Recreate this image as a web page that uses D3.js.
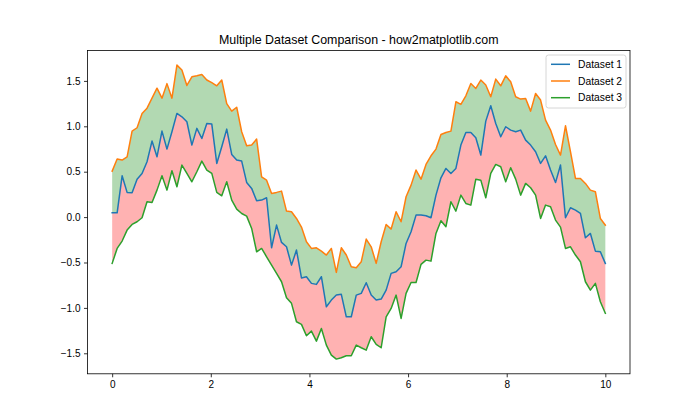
<!DOCTYPE html>
<html>
<head>
<meta charset="utf-8">
<script src="https://cdn.jsdelivr.net/npm/d3@7"></script>
<style>
  html, body { margin: 0; padding: 0; background: #fff; }
  svg { display: block; font-family: "Liberation Sans", Arial, sans-serif; }
</style>
</head>
<body>
<div id="chart"></div>
<script>
const nPoints = 100;
const xStart = 0, xEnd = 10;

const dataset1 = [
  0.047, 0.047, 0.455, 0.272, 0.268, 0.418, 0.481, 0.609, 0.837, 0.664,
  0.947, 0.749, 0.940, 1.142, 1.105, 1.050, 0.793, 0.977, 0.866, 1.030,
  1.024, 0.591, 0.774, 0.969, 0.690, 0.628, 0.617, 0.382, 0.316, 0.180,
  0.187, 0.213, -0.338, -0.088, -0.279, -0.327, -0.529, -0.363, -0.670, -0.657,
  -0.730, -0.741, -0.657, -0.988, -0.914, -0.859, -0.851, -1.098, -1.098, -0.859,
  -0.840, -0.723, -0.859, -0.914, -0.903, -0.804, -0.620, -0.602, -0.547, -0.290,
  -0.162, 0.022, 0.022, 0.015, -0.007, 0.242, 0.433, 0.536, 0.481, 0.536,
  0.793, 0.932, 0.932, 0.874, 0.683, 1.057, 1.226, 1.030, 0.885, 0.995,
  0.958, 0.940, 0.958, 0.848, 0.793, 0.720, 0.591, 0.675, 0.518, 0.380,
  0.573, -0.007, 0.103, 0.077, 0.040, -0.228, -0.180, -0.375, -0.382, -0.510
];

const dataset2 = [
  0.506, 0.639, 0.628, 0.664, 0.947, 0.984, 1.140, 1.200, 1.310, 1.420,
  1.310, 1.470, 1.310, 1.674, 1.620, 1.450, 1.545, 1.556, 1.570, 1.510,
  1.480, 1.446, 1.510, 1.250, 1.167, 1.210, 0.940, 0.785, 0.793, 0.859,
  0.444, 0.407, 0.260, 0.272, 0.286, 0.066, 0.059, -0.015, -0.110, -0.272,
  -0.345, -0.338, -0.374, -0.418, -0.345, -0.609, -0.338, -0.418, -0.547, -0.558,
  -0.492, -0.242, -0.327, -0.510, -0.272, -0.081, -0.132, 0.059, -0.051, 0.224,
  0.352, 0.518, 0.418, 0.580, 0.675, 0.749, 0.910, 0.932, 0.947, 1.270,
  1.241, 1.336, 1.472, 1.417, 1.509, 1.454, 1.325, 1.520, 1.446, 1.556,
  1.490, 1.325, 1.300, 1.307, 1.167, 1.362, 1.289, 1.068, 0.958, 0.800,
  0.683, 1.006, 0.720, 0.426, 0.426, 0.371, 0.297, 0.279, -0.015, -0.088
];

const dataset3 = [
  -0.510, -0.345, -0.264, -0.143, -0.081, -0.051, -0.007, 0.169, 0.161, 0.297,
  0.455, 0.297, 0.510, 0.334, 0.573, 0.481, 0.389, 0.499, 0.617, 0.518,
  0.481, 0.272, 0.235, 0.389, 0.187, 0.088, 0.040, 0.011, -0.125, -0.382,
  -0.345, -0.437, -0.529, -0.620, -0.712, -0.888, -0.950, -1.153, -1.182, -1.307,
  -1.256, -1.366, -1.226, -1.410, -1.520, -1.564, -1.549, -1.527, -1.527, -1.410,
  -1.439, -1.465, -1.318, -1.402, -1.439, -1.098, -1.006, -0.859, -1.116, -0.840,
  -0.720, -0.720, -0.521, -0.474, -0.485, -0.180, -0.040, -0.106, 0.169, 0.066,
  0.242, 0.150, 0.132, 0.418, 0.407, 0.213, 0.481, 0.580, 0.554, 0.389,
  0.543, 0.418, 0.242, 0.371, 0.323, 0.242, -0.015, 0.132, 0.114, -0.033,
  -0.110, -0.345, -0.327, -0.418, -0.492, -0.712, -0.804, -0.730, -0.933, -1.060
];

const seriesNames = ["Dataset 1", "Dataset 2", "Dataset 3"];
const seriesColors = ["#1f77b4", "#ff7f0e", "#2ca02c"];
const xTicks = [0, 2, 4, 6, 8, 10];
const yTicks = [-1.5, -1.0, -0.5, 0.0, 0.5, 1.0, 1.5];
const titleText = "Multiple Dataset Comparison - how2matplotlib.com";

const xs = d3.range(nPoints).map(i => xStart + (xEnd - xStart) * i / (nPoints - 1));
const rows = xs.map((xv, i) => ({ x: xv, a: dataset1[i], b: dataset2[i], c: dataset3[i] }));

const W = 700, H = 420;
const mLeft = 87.5, mRight = 630, mTop = 50.4, mBottom = 373.8;

const svg = d3.select("#chart").append("svg").attr("width", W).attr("height", H);

// matplotlib-like 5% margins
const xPad = (xEnd - xStart) * 0.05;
const allY = dataset1.concat(dataset2, dataset3);
const yMin = d3.min(allY), yMax = d3.max(allY);
const yPad = (yMax - yMin) * 0.05;

const xScale = d3.scaleLinear().domain([xStart - xPad, xEnd + xPad]).range([mLeft, mRight]);
const yScale = d3.scaleLinear().domain([yMin - yPad, yMax + yPad]).range([mBottom, mTop]);

const g = svg.append("g");
g.append("defs").append("clipPath").attr("id", "clip")
  .append("rect").attr("x", mLeft).attr("y", mTop).attr("width", mRight - mLeft).attr("height", mBottom - mTop);

const plot = g.append("g").attr("clip-path", "url(#clip)");

// fills
plot.append("path").datum(rows)
  .attr("d", d3.area().x(d => xScale(d.x)).y0(d => yScale(d.a)).y1(d => yScale(d.b)))
  .attr("fill", "green").attr("fill-opacity", 0.3).attr("stroke", "none");
plot.append("path").datum(rows)
  .attr("d", d3.area().x(d => xScale(d.x)).y0(d => yScale(d.a)).y1(d => yScale(d.c)))
  .attr("fill", "red").attr("fill-opacity", 0.3).attr("stroke", "none");

// lines
const keys = ["a", "b", "c"];
keys.forEach((k, si) => {
  plot.append("path").datum(rows)
    .attr("d", d3.line().x(d => xScale(d.x)).y(d => yScale(d[k])))
    .attr("fill", "none").attr("stroke", seriesColors[si])
    .attr("stroke-width", 1.5).attr("stroke-linejoin", "round").attr("stroke-linecap", "square");
});

// axes
const fmtY = d => (d < 0 ? "\u2212" : "") + Math.abs(d).toFixed(1);
const xAxis = d3.axisBottom(xScale).tickValues(xTicks).tickFormat(d3.format("d")).tickSizeInner(3.5).tickSizeOuter(0).tickPadding(3.5);
const yAxis = d3.axisLeft(yScale).tickValues(yTicks).tickFormat(fmtY).tickSizeInner(3.5).tickSizeOuter(0).tickPadding(3.5);

const gx = g.append("g").attr("transform", `translate(0,${mBottom})`).call(xAxis);
const gy = g.append("g").attr("transform", `translate(${mLeft},0)`).call(yAxis);
[gx, gy].forEach(ax => {
  ax.select(".domain").remove();
  ax.selectAll(".tick line").attr("stroke", "#000").attr("stroke-width", 0.8);
  ax.selectAll(".tick text").attr("fill", "#000").attr("font-size", "10px")
    .attr("font-family", "Liberation Sans, Arial, sans-serif");
});

// spines
g.append("rect").attr("x", mLeft).attr("y", mTop).attr("width", mRight - mLeft).attr("height", mBottom - mTop)
  .attr("fill", "none").attr("stroke", "#000").attr("stroke-width", 0.8);

// title
g.append("text").attr("x", (mLeft + mRight) / 2).attr("y", mTop - 6.5)
  .attr("text-anchor", "middle").attr("font-size", "12.4px").attr("fill", "#000")
  .text(titleText);

// legend
const lg = g.append("g");
lg.append("rect").attr("x", 546).attr("y", 55).attr("width", 80).attr("height", 53)
  .attr("rx", 2.5).attr("fill", "#fff").attr("fill-opacity", 0.8)
  .attr("stroke", "#cccccc").attr("stroke-width", 0.8);
seriesNames.forEach((name, i) => {
  const ly = 64.3 + i * 16.7;
  lg.append("line").attr("x1", 551).attr("x2", 570).attr("y1", ly).attr("y2", ly)
    .attr("stroke", seriesColors[i]).attr("stroke-width", 1.5);
  lg.append("text").attr("x", 578).attr("y", ly).attr("dy", "0.35em")
    .attr("font-size", "10.3px").attr("fill", "#000").text(name);
});
</script>
</body>
</html>
